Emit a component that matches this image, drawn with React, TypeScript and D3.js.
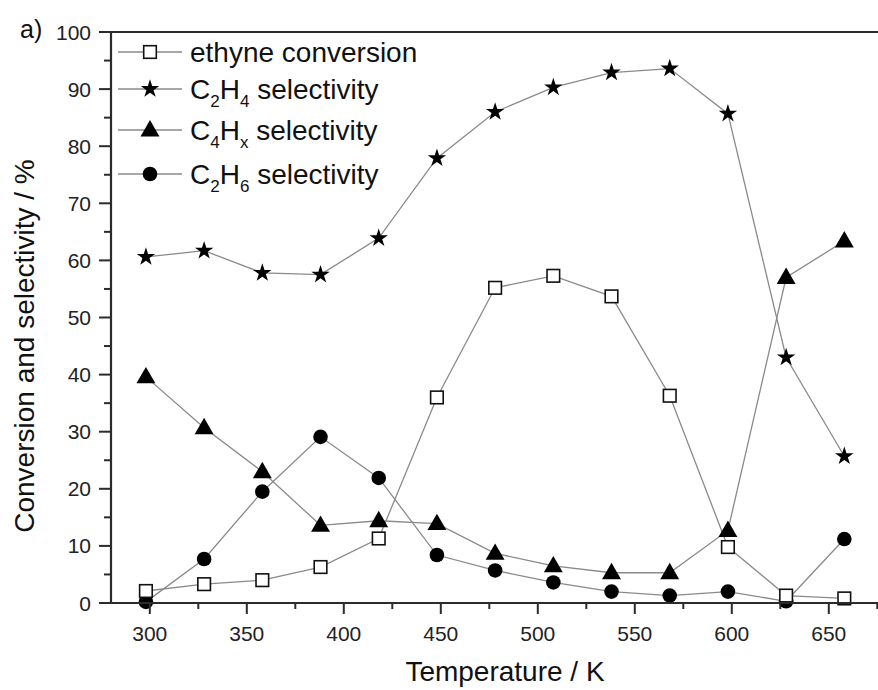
import React from "react";
import * as d3 from "d3";

const temperatures = [298, 328, 358, 388, 418, 448, 478, 508, 538, 568, 598, 628, 658];
const ethyneConversion = [2.1, 3.3, 4.0, 6.3, 11.3, 36.0, 55.2, 57.3, 53.7, 36.3, 9.8, 1.3, 0.8];
const c2h4Selectivity = [60.6, 61.7, 57.8, 57.5, 63.9, 77.9, 86.0, 90.3, 92.9, 93.6, 85.7, 43.0, 25.7];
const c4hxSelectivity = [39.6, 30.7, 23.0, 13.6, 14.4, 13.9, 8.7, 6.5, 5.3, 5.3, 12.7, 57.0, 63.4];
const c2h6Selectivity = [0.2, 7.7, 19.5, 29.1, 21.9, 8.4, 5.7, 3.6, 2.0, 1.3, 2.0, 0.3, 11.2];

const xTicks = [300, 350, 400, 450, 500, 550, 600, 650];
const yTicks = [0, 10, 20, 30, 40, 50, 60, 70, 80, 90, 100];

const W = 878, H = 690;
const left = 111, right = 887, top = 32, bottom = 603;
const FONT = "'Liberation Sans', Arial, Helvetica, sans-serif";

const x = d3.scaleLinear().domain([280, 680]).range([left, right]);
const y = d3.scaleLinear().domain([0, 100]).range([bottom, top]);

type Kind = "square" | "star" | "triangle" | "circle";

function Marker({ kind, cx, cy }: { kind: Kind; cx: number; cy: number }) {
  if (kind === "square") {
    return <rect x={cx - 6.3} y={cy - 6.3} width={12.6} height={12.6} fill="#fff" stroke="#111" strokeWidth={1.6} />;
  }
  if (kind === "circle") {
    return <circle cx={cx} cy={cy} r={7.3} fill="#000" />;
  }
  if (kind === "triangle") {
    const p = d3.symbol(d3.symbolTriangle, 155)();
    return <path d={p as string} transform={`translate(${cx},${cy + 1})`} fill="#000" />;
  }
  const p = d3.symbol(d3.symbolStar, 105)();
  return <path d={p as string} transform={`translate(${cx},${cy})`} fill="#000" />;
}

const series: { name: string; values: number[]; kind: Kind }[] = [
  { name: "c2h6", values: c2h6Selectivity, kind: "circle" },
  { name: "c4hx", values: c4hxSelectivity, kind: "triangle" },
  { name: "c2h4", values: c2h4Selectivity, kind: "star" },
  { name: "ethyne", values: ethyneConversion, kind: "square" },
];

type Seg = { t: string; sub?: boolean };
const legendRows: { kind: Kind; main: Seg[]; rest: string; yy: number }[] = [
  { kind: "square", main: [], rest: "ethyne conversion", yy: 52 },
  { kind: "star", main: [{ t: "C" }, { t: "2", sub: true }, { t: "H" }, { t: "4", sub: true }], rest: " selectivity", yy: 89 },
  { kind: "triangle", main: [{ t: "C" }, { t: "4", sub: true }, { t: "H" }, { t: "x", sub: true }], rest: " selectivity", yy: 130 },
  { kind: "circle", main: [{ t: "C" }, { t: "2", sub: true }, { t: "H" }, { t: "6", sub: true }], rest: " selectivity", yy: 174 },
];

export default function App() {
  const line = d3
    .line<number>()
    .x((_, i) => x(temperatures[i]))
    .y((v) => y(v));

  const minorX = d3.range(275, 700, 25).filter((t) => t % 50 !== 0 && x(t) > left);
  const minorY = d3.range(5, 100, 10);
  const axisColor = "#2b2b2b";

  return (
    <svg width={W} height={H} style={{ position: "absolute", left: 0, top: 0, background: "#fff" }} fontFamily={FONT}>
      <rect width={W} height={H} fill="#fff" />
      {series.map((s) => (
        <path key={s.name + "l"} d={line(s.values) as string} fill="none" stroke="#8a8a8a" strokeWidth={1.3} />
      ))}
      {series.map((s) =>
        s.values.map((v, i) => <Marker key={s.name + i} kind={s.kind} cx={x(temperatures[i])} cy={y(v)} />)
      )}
      <line x1={left - 12} x2={W} y1={top} y2={top} stroke={axisColor} strokeWidth={2.2} />
      <line x1={left - 12} x2={W} y1={bottom} y2={bottom} stroke={axisColor} strokeWidth={2.2} />
      <line x1={left} x2={left} y1={top} y2={bottom} stroke={axisColor} strokeWidth={2.2} />
      {yTicks.map((t) => (
        <g key={"yt" + t}>
          <line x1={left - 12} x2={left} y1={y(t)} y2={y(t)} stroke={axisColor} strokeWidth={2} />
          <text x={left - 20} y={y(t) + 7.5} textAnchor="end" fontSize={21} fill="#222">
            {t}
          </text>
        </g>
      ))}
      {minorY.map((t) => (
        <line key={"ym" + t} x1={left - 7} x2={left} y1={y(t)} y2={y(t)} stroke={axisColor} strokeWidth={2} />
      ))}
      {xTicks.map((t) => (
        <g key={"xt" + t}>
          <line x1={x(t)} x2={x(t)} y1={bottom} y2={bottom + 11} stroke={axisColor} strokeWidth={2} />
          <text x={x(t)} y={bottom + 38} textAnchor="middle" fontSize={21} fill="#222">
            {t}
          </text>
        </g>
      ))}
      {minorX.map((t) => (
        <line key={"xm" + t} x1={x(t)} x2={x(t)} y1={bottom} y2={bottom + 6} stroke={axisColor} strokeWidth={2} />
      ))}
      <text x={505} y={681} textAnchor="middle" fontSize={28} fill="#111">
        Temperature / K
      </text>
      <text transform={`translate(34,346) rotate(-90)`} textAnchor="middle" fontSize={28} fill="#111">
        Conversion and selectivity / %
      </text>
      <text x={20} y={38} fontSize={25} fill="#111">
        a)
      </text>
      {legendRows.map((r, i) => (
        <g key={"lg" + i}>
          <line x1={118} x2={182} y1={r.yy} y2={r.yy} stroke="#8a8a8a" strokeWidth={1.3} />
          <Marker kind={r.kind} cx={150} cy={r.yy} />
          <text x={190} y={r.yy + 9.5} fontSize={28} fill="#111">
            {r.main.map((seg, j) => {
              const prevSub = j > 0 && r.main[j - 1].sub;
              const dy = seg.sub ? 8 : prevSub ? -8 : 0;
              return (
                <tspan key={j} dy={dy} fontSize={seg.sub ? 17 : 28}>
                  {seg.t}
                </tspan>
              );
            })}
            <tspan dy={r.main.length && r.main[r.main.length - 1].sub ? -8 : 0}>{r.rest}</tspan>
          </text>
        </g>
      ))}
    </svg>
  );
}
